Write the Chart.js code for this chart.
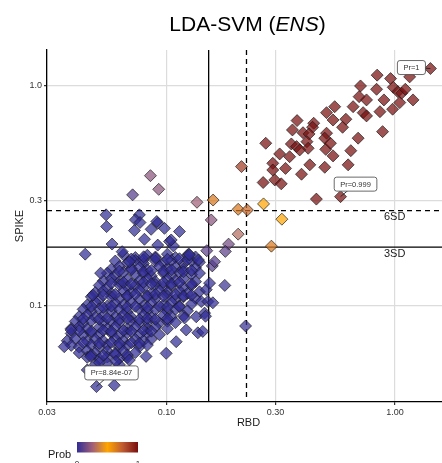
<!DOCTYPE html>
<html>
<head>
<meta charset="utf-8">
<script src="https://cdn.jsdelivr.net/npm/chart.js@4/dist/chart.umd.min.js"></script>
<style>
html, body { margin: 0; padding: 0; background: #fff; }
canvas { display: block; }
</style>
</head>
<body>
<canvas id="myChart" width="442" height="463"></canvas>
<script>
// ---- data: [RBD, SPIKE] ----
// Prob ~ 0 (main cluster + stragglers)
var bluePts = [
  [.0648,.171],[.0731,.166],[.0825,.170],[.0895,.167],[.1010,.172],[.1095,.166],[.1236,.170],[.1340,.167],
  [.0597,.160],[.0674,.157],[.0731,.161],[.0793,.156],[.0895,.160],[.0970,.157],[.1052,.161],[.1187,.156],[.1287,.160],[.1395,.158],
  [.0574,.147],[.0622,.151],[.0702,.148],[.0761,.150],[.0825,.146],[.0932,.151],[.1010,.148],[.1095,.150],[.1187,.147],[.1340,.149],
  [.0551,.141],[.0597,.138],[.0648,.142],[.0731,.139],[.0793,.141],[.0859,.137],[.0970,.141],[.1052,.138],[.1140,.142],[.1287,.139],[.1395,.141],
  [.0529,.130],[.0574,.133],[.0622,.129],[.0674,.132],[.0761,.130],[.0825,.133],[.0895,.129],[.1010,.132],[.1095,.130],[.1187,.133],[.1340,.129],
  [.0508,.124],[.0551,.121],[.0622,.125],[.0674,.122],[.0731,.124],[.0793,.121],[.0895,.125],[.0970,.122],[.1052,.124],[.1187,.121],[.1287,.124],
  [.0488,.115],[.0529,.117],[.0574,.114],[.0648,.117],[.0702,.115],[.0761,.118],[.0859,.114],[.0932,.117],[.1010,.115],[.1140,.117],[.1236,.114],[.1395,.116],
  [.0469,.110],[.0508,.107],[.0574,.110],[.0622,.108],[.0674,.111],[.0761,.107],[.0825,.110],[.0895,.108],[.1010,.111],[.1095,.107],[.1187,.110],[.1340,.108],
  [.0450,.101],[.0488,.104],[.0551,.100],[.0597,.103],[.0648,.101],[.0702,.104],[.0793,.100],[.0859,.103],[.0970,.101],[.1052,.104],[.1140,.100],[.1287,.102],
  [.0432,.0965],[.0469,.0945],[.0508,.0970],[.0574,.0950],[.0622,.0965],[.0674,.0940],[.0761,.0968],[.0825,.0948],[.0895,.0962],[.1010,.0944],[.1095,.0966],[.1236,.0950],
  [.0415,.0895],[.0450,.0910],[.0488,.0888],[.0529,.0905],[.0597,.0892],[.0648,.0912],[.0702,.0890],[.0793,.0908],[.0859,.0886],[.0970,.0906],[.1052,.0892],[.1187,.0902],
  [.0399,.0850],[.0432,.0836],[.0469,.0855],[.0529,.0840],[.0574,.0852],[.0622,.0835],[.0702,.0854],[.0761,.0838],[.0825,.0850],[.0932,.0836],[.1010,.0852],[.1095,.0840],
  [.0383,.0790],[.0415,.0805],[.0450,.0785],[.0508,.0800],[.0551,.0788],[.0597,.0806],[.0674,.0786],[.0731,.0802],[.0825,.0790],[.0895,.0804],[.1010,.0788],
  [.0383,.0750],[.0432,.0738],[.0469,.0755],[.0508,.0740],[.0574,.0752],[.0622,.0737],[.0674,.0754],[.0761,.0741],[.0825,.0753],[.0932,.0740],
  [.0368,.0695],[.0399,.0708],[.0450,.0692],[.0488,.0706],[.0529,.0694],[.0597,.0709],[.0648,.0693],[.0731,.0705],[.0793,.0695],[.0859,.0707],
  [.0383,.0662],[.0415,.0650],[.0469,.0665],[.0508,.0652],[.0551,.0664],[.0622,.0650],[.0674,.0662],[.0761,.0652],[.0825,.0664],
  [.0415,.0612],[.0450,.0625],[.0488,.0610],[.0551,.0622],[.0597,.0611],[.0648,.0624],[.0731,.0614],
  [.0450,.0584],[.0508,.0574],[.0551,.0586],[.0622,.0576],[.0674,.0583],
  [.0488,.0542],[.0551,.0550],[.0622,.0540],
  // second, denser layer in the core
  [.0702,.1635],[.0793,.162],[.0895,.165],[.1010,.163],[.1140,.164],[.1236,.162],
  [.0622,.144],[.0702,.146],[.0793,.143],[.0859,.145],[.0970,.144],[.1052,.146],[.1187,.143],[.1287,.145],
  [.0574,.127],[.0648,.128],[.0702,.126],[.0793,.128],[.0859,.126],[.0970,.128],[.1052,.126],[.1140,.128],[.1287,.126],
  [.0529,.112],[.0597,.113],[.0674,.111],[.0731,.113],[.0825,.111],[.0895,.113],[.0970,.111],[.1095,.113],[.1187,.111],[.1287,.112],
  [.0469,.0995],[.0529,.0985],[.0574,.0998],[.0674,.0988],[.0731,.0996],[.0825,.0986],[.0932,.0997],[.1010,.0988],[.1140,.0993],
  [.0432,.0875],[.0508,.0870],[.0551,.0880],[.0622,.0868],[.0674,.0878],[.0761,.0869],[.0825,.0879],[.0895,.0870],[.1010,.0876],
  [.0415,.0772],[.0469,.0768],[.0529,.0775],[.0574,.0766],[.0648,.0774],[.0702,.0767],[.0793,.0773],[.0859,.0768],
  [.0432,.0682],[.0508,.0676],[.0574,.0683],[.0622,.0675],[.0702,.0681],[.0761,.0677],
  [.0469,.0600],[.0529,.0596],[.0597,.0602],[.0674,.0598],
  // edge / stragglers
  [.0357,.0653],[.0382,.0778],[.0441,.172],[.0515,.141],[.0476,.112],[.0494,.0430],[.0591,.0436],[.0450,.0512],
  [.0466,.0590],[.0508,.0553],[.0601,.0560],[.0688,.0568],[.0814,.0590],[.0997,.0609],[.1103,.0688],[.1220,.0778],
  [.1372,.0755],[.1442,.0766],[.1200,.0882],[.1350,.0893],[.1468,.0928],[.1420,.1047],[.1518,.1047],[.1596,.1034],
  [.1493,.1186],[.1544,.1270],[.1482,.0898],[.1380,.1618],[.1252,.1723],[.114,.218],[.1031,.1964],[.0916,.2376],
  [.0980,.2253],[.0857,.2231],[.0801,.2010],[.0761,.2595],[.0731,.2463],[.0766,.2396],[.0907,.2420],[.0724,.2201],
  [.0544,.2595],[.0547,.2295],[.0578,.1912],[.0640,.1765],[.1073,.1874],[.1049,.1995],[.1261,.1706],[.0916,.1891],
  [.0795,.1673],[.0688,.1590]
];

// in-between points: [RBD, SPIKE, Prob]
var midPts = [
  [.0851,.391,.2],[.0925,.339,.2],[.0711,.320,.08],[.136,.296,.25],[.160,.303,.65],[.157,.246,.2],
  [.206,.275,.65],[.226,.273,.7],[.266,.291,.5],[.320,.248,.5],[.206,.212,.3],[.187,.191,.15],
  [.181,.177,.1],[.288,.187,.65],[.1501,.1783,.1],[.213,.430,.85],[.1587,.1521,.08],[.1624,.159,.08],
  [.180,.124,.03],[.222,.0811,.02]
];

// Prob ~ 1
var redPts = [
  [1.43,1.20],[1.16,1.10],[0.836,1.12],[0.957,1.08],[0.707,1.00],[0.831,0.966],[0.983,0.986],[1.03,0.942],
  [1.07,0.927],[1.11,0.966],[0.697,0.894],[0.751,0.864],[0.895,0.864],[1.05,0.840],[1.20,0.864],[0.656,0.805],
  [0.726,0.756],[0.751,0.731],[0.860,0.764],[0.977,0.784],[0.545,0.805],[0.502,0.756],[0.536,0.700],[0.610,0.706],
  [0.590,0.649],[0.373,0.696],[0.441,0.677],[0.436,0.649],[0.396,0.613],[0.421,0.605],[0.502,0.610],[0.493,0.579],
  [0.883,0.620],[0.272,0.549],[0.352,0.545],[0.371,0.530],[0.412,0.558],[0.417,0.521],[0.498,0.515],[0.522,0.549],
  [0.690,0.579],[0.313,0.491],[0.346,0.477],[0.383,0.512],[0.536,0.481],[0.641,0.508],[0.292,0.445],[0.332,0.422],
  [0.424,0.438],[0.493,0.427],[0.624,0.438],[0.292,0.415],[0.390,0.397],[0.265,0.364],[0.298,0.374],[0.318,0.359],
  [0.453,0.306],[0.578,0.314],[0.356,0.631]
];

var labelText = ['Pr=1', 'Pr=0.999', 'Pr=8.84e-07'];
var labelRbd = [1.43, 0.578, 0.0494];
var labelSpike = [1.20, 0.314, 0.0430];

var xTicks = [0.03, 0.1, 0.3, 1];
var yTicks = [0.1, 0.3, 1];
var cutRbd = [0.153, 0.224];     // solid, dashed
var cutSpike = [0.185, 0.271];   // 3SD solid, 6SD dashed
var cutNames = ['3SD', '6SD'];

// ---- styling ----
var labelOffset = [[-19, -1], [15, -12.5], [15, -13.7]];
var FONT = '"Liberation Sans", Arial, Helvetica, sans-serif';
var stops = [[0, [48, 45, 150]], [0.25, [160, 95, 120]], [0.5, [255, 165, 0]], [0.75, [190, 90, 50]], [1, [120, 15, 15]]];

function probColour(p, a) {
  for (var i = 1; i < stops.length; i++) {
    if (p <= stops[i][0]) {
      var t = (p - stops[i - 1][0]) / (stops[i][0] - stops[i - 1][0]);
      var c0 = stops[i - 1][1], c1 = stops[i][1];
      var c = [0, 1, 2].map(function (k) { return Math.round(c0[k] + t * (c1[k] - c0[k])); });
      return 'rgba(' + c[0] + ',' + c[1] + ',' + c[2] + ',' + a + ')';
    }
  }
  return 'rgba(120,15,15,' + a + ')';
}

function makeSet(pts, probFn) {
  return {
    data: pts.map(function (p) { return { x: p[0], y: p[1] }; }),
    backgroundColor: pts.map(function (p) { return probColour(probFn(p), 0.72); }),
    borderColor: 'rgba(25,25,25,0.85)',
    borderWidth: 0.8,
    pointStyle: 'rectRot',
    pointRadius: 6,
    pointHoverRadius: 6,
    showLine: false
  };
}

var cutLines = {
  id: 'cutLines',
  beforeDatasetsDraw: function (chart) {
    var ctx = chart.ctx, a = chart.chartArea, xs = chart.scales.x, ys = chart.scales.y;
    ctx.save();
    ctx.strokeStyle = '#000';
    ctx.lineWidth = 1.3;
    cutRbd.forEach(function (v, i) {
      var px = xs.getPixelForValue(v);
      ctx.setLineDash(i === 1 ? [5, 4] : []);
      ctx.beginPath(); ctx.moveTo(px, a.top); ctx.lineTo(px, a.bottom); ctx.stroke();
    });
    cutSpike.forEach(function (v, i) {
      var py = ys.getPixelForValue(v);
      ctx.setLineDash(i === 1 ? [5, 4] : []);
      ctx.beginPath(); ctx.moveTo(a.left, py); ctx.lineTo(a.right, py); ctx.stroke();
    });
    ctx.restore();
  },
  afterDatasetsDraw: function (chart) {
    var ctx = chart.ctx, a = chart.chartArea, xs = chart.scales.x, ys = chart.scales.y;
    ctx.save();
    // SD labels under the lines
    ctx.fillStyle = '#1a1a1a';
    ctx.font = '11px ' + FONT;
    ctx.textAlign = 'left';
    ctx.textBaseline = 'middle';
    cutSpike.forEach(function (v, i) {
      ctx.fillText(cutNames[i], a.right - 58, ys.getPixelForValue(v) + 6.5);
    });
    // point labels
    ctx.font = '7.5px ' + FONT;
    ctx.textAlign = 'center';
    labelText.forEach(function (t, i) {
      var px = xs.getPixelForValue(labelRbd[i]), py = ys.getPixelForValue(labelSpike[i]);
      var cx = px + labelOffset[i][0], cy = py + labelOffset[i][1];
      var w = ctx.measureText(t).width + 12, h = 14;
      ctx.strokeStyle = '#222';
      ctx.lineWidth = 0.9;
      ctx.beginPath(); ctx.moveTo(px, py); ctx.lineTo(cx, cy); ctx.stroke();
      ctx.beginPath();
      ctx.roundRect(cx - w / 2, cy - h / 2, w, h, 2.5);
      ctx.fillStyle = '#fff';
      ctx.fill();
      ctx.strokeStyle = '#444';
      ctx.lineWidth = 0.8;
      ctx.stroke();
      ctx.fillStyle = '#333';
      ctx.fillText(t, cx, cy + 0.5);
    });
    ctx.restore();
  },
  afterDraw: function (chart) {
    var ctx = chart.ctx;
    ctx.save();
    // title with italic part
    var parts = [['LDA-SVM (', ''], ['ENS', 'italic '], [')', '']];
    var total = 0;
    parts.forEach(function (p) { ctx.font = p[1] + '21px ' + FONT; total += ctx.measureText(p[0]).width; });
    var x = 247.5 - total / 2;
    ctx.fillStyle = '#000';
    ctx.textBaseline = 'alphabetic';
    ctx.textAlign = 'left';
    parts.forEach(function (p) {
      ctx.font = p[1] + '21px ' + FONT;
      ctx.fillText(p[0], x, 31);
      x += ctx.measureText(p[0]).width;
    });
    // axis titles
    ctx.fillStyle = '#1a1a1a';
    ctx.font = '11px ' + FONT;
    ctx.textAlign = 'center';
    ctx.textBaseline = 'middle';
    ctx.fillText('RBD', 248.5, 423);
    ctx.save();
    ctx.translate(20, 226);
    ctx.rotate(-Math.PI / 2);
    ctx.fillText('SPIKE', 0, 0);
    ctx.restore();
    // colour bar legend
    var g = ctx.createLinearGradient(77, 0, 138, 0);
    stops.forEach(function (s) { g.addColorStop(s[0], 'rgb(' + s[1].join(',') + ')'); });
    ctx.fillStyle = g;
    ctx.fillRect(77, 442, 61, 10.5);
    ctx.fillStyle = '#1a1a1a';
    ctx.textAlign = 'left';
    ctx.textBaseline = 'alphabetic';
    ctx.fillText('Prob', 48, 458);
    ctx.font = '8px ' + FONT;
    ctx.textAlign = 'center';
    ctx.textBaseline = 'top';
    ctx.fillText('0', 77, 460);
    ctx.fillText('1', 138, 460);
    ctx.restore();
  }
};

var ctx = document.getElementById('myChart');
var myChart = new Chart(ctx, {
  type: 'scatter',
  data: {
    datasets: [
      makeSet(bluePts, function () { return 0; }),
      makeSet(midPts, function (p) { return p[2]; }),
      makeSet(redPts, function () { return 1; })
    ]
  },
  options: {
    responsive: false,
    animation: false,
    layout: { autoPadding: false, padding: { top: 50, bottom: 40, left: 0, right: 0 } },
    plugins: { legend: { display: false }, tooltip: { enabled: false }, title: { display: false } },
    scales: {
      x: {
        type: 'logarithmic',
        min: 0.03, max: 1.607,
        afterBuildTicks: function (s) { s.ticks = xTicks.map(function (v) { return { value: v }; }); },
        afterFit: function (s) { s.height = 21; s.paddingLeft = 0; s.paddingRight = 0; },
        ticks: {
          callback: function (v) { return Number(v).toFixed(2); },
          font: { family: FONT, size: 9 }, color: '#333', padding: 2, maxRotation: 0, autoSkip: false
        },
        grid: { color: '#dcdcdc', lineWidth: 1.2, tickLength: 3, tickColor: '#333' },
        border: { color: '#000', width: 1.3 }
      },
      y: {
        type: 'logarithmic',
        min: 0.0366, max: 1.457,
        afterBuildTicks: function (s) { s.ticks = yTicks.map(function (v) { return { value: v }; }); },
        afterFit: function (s) { s.width = 47; s.paddingTop = 0; s.paddingBottom = 0; },
        ticks: {
          callback: function (v) { return Number(v).toFixed(1); },
          font: { family: FONT, size: 9 }, color: '#333', padding: 2, autoSkip: false
        },
        grid: { color: '#dcdcdc', lineWidth: 1.2, tickLength: 3, tickColor: '#333' },
        border: { color: '#000', width: 1.3 }
      }
    }
  },
  plugins: [cutLines]
});
</script>
</body>
</html>
